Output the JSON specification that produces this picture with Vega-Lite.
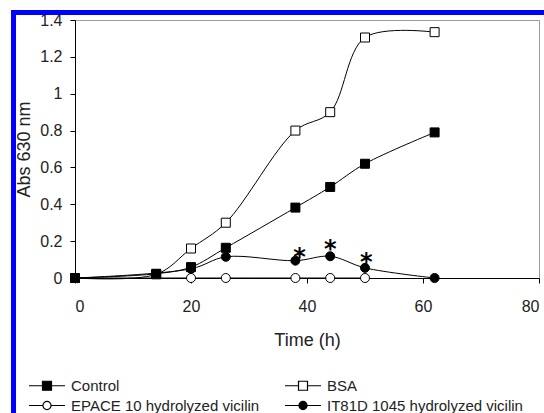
{
  "$schema": "https://vega.github.io/schema/vega-lite/v6.json",
  "width": 464,
  "height": 258,
  "autosize": {"type": "none"},
  "padding": {"left": 75, "top": 20, "right": 5, "bottom": 135},
  "background": "white",
  "config": {
    "view": {"stroke": "#999", "strokeWidth": 1},
    "font": "Liberation Sans",
    "axis": {
      "grid": false,
      "domainColor": "black",
      "tickColor": "black",
      "labelColor": "#222",
      "titleColor": "#222",
      "labelFont": "Liberation Sans",
      "titleFont": "Liberation Sans",
      "labelFontSize": 16,
      "titleFontSize": 18,
      "titleFontWeight": "normal",
      "tickSize": 5,
      "labelOverlap": false
    },
    "axisX": {"tickCount": 4, "labelPadding": 15, "titlePadding": 17, "labelOverlap": false},
    "axisY": {"tickCount": 7, "format": "~g", "labelPadding": 8, "titlePadding": 6, "labelOverlap": false},
    "legend": {
      "orient": "none", "legendX": -35.5, "legendY": 358,
      "direction": "horizontal", "columns": 2, "padding": 0,
      "labelFont": "Liberation Sans", "labelFontSize": 15, "labelColor": "#222", "labelLimit": 400,
      "labelOffset": 16.5, "columnPadding": 23, "rowPadding": 4,
      "symbolSize": 81, "symbolStrokeColor": "black", "symbolStrokeWidth": 1.2
    }
  },
  "datasets": {
    "series": [
      {"t": 0, "v": 0, "s": "EPACE 10 hydrolyzed vicilin"},
      {"t": 20, "v": 0, "s": "EPACE 10 hydrolyzed vicilin"},
      {"t": 26, "v": 0, "s": "EPACE 10 hydrolyzed vicilin"},
      {"t": 38, "v": 0, "s": "EPACE 10 hydrolyzed vicilin"},
      {"t": 44, "v": 0, "s": "EPACE 10 hydrolyzed vicilin"},
      {"t": 50, "v": 0, "s": "EPACE 10 hydrolyzed vicilin"},
      {"t": 0, "v": 0, "s": "BSA"},
      {"t": 14, "v": 0.02, "s": "BSA"},
      {"t": 20, "v": 0.16, "s": "BSA"},
      {"t": 26, "v": 0.30, "s": "BSA"},
      {"t": 38, "v": 0.80, "s": "BSA"},
      {"t": 44, "v": 0.90, "s": "BSA"},
      {"t": 50, "v": 1.305, "s": "BSA"},
      {"t": 62, "v": 1.334, "s": "BSA"},
      {"t": 0, "v": 0, "s": "Control"},
      {"t": 14, "v": 0.023, "s": "Control"},
      {"t": 20, "v": 0.059, "s": "Control"},
      {"t": 26, "v": 0.164, "s": "Control"},
      {"t": 38, "v": 0.382, "s": "Control"},
      {"t": 44, "v": 0.494, "s": "Control"},
      {"t": 50, "v": 0.62, "s": "Control"},
      {"t": 62, "v": 0.79, "s": "Control"},
      {"t": 0, "v": 0, "s": "IT81D 1045 hydrolyzed vicilin"},
      {"t": 20, "v": 0.05, "s": "IT81D 1045 hydrolyzed vicilin"},
      {"t": 26, "v": 0.115, "s": "IT81D 1045 hydrolyzed vicilin"},
      {"t": 38, "v": 0.094, "s": "IT81D 1045 hydrolyzed vicilin"},
      {"t": 44, "v": 0.118, "s": "IT81D 1045 hydrolyzed vicilin"},
      {"t": 50, "v": 0.055, "s": "IT81D 1045 hydrolyzed vicilin"},
      {"t": 62, "v": 0, "s": "IT81D 1045 hydrolyzed vicilin"}
    ],
    "stars": [
      {"t": 38.7, "v": 0.145, "label": "*"},
      {"t": 44, "v": 0.188, "label": "*"},
      {"t": 50.2, "v": 0.115, "label": "*"}
    ]
  },
  "layer": [
    {
      "data": {"name": "series"},
      "mark": {"type": "line", "interpolate": "catmull-rom", "color": "black", "strokeWidth": 1},
      "encoding": {
        "x": {"field": "t", "type": "quantitative", "scale": {"domain": [0, 80], "nice": false}, "title": "Time (h)"},
        "y": {"field": "v", "type": "quantitative", "scale": {"domain": [0, 1.4], "nice": false}, "title": "Abs 630 nm"},
        "detail": {"field": "s"}
      }
    },
    {
      "data": {"name": "series"},
      "transform": [{"filter": "datum.s == 'Control' || datum.s == 'BSA'"}],
      "mark": {"type": "point", "shape": "square", "filled": true, "stroke": "black", "strokeWidth": 1, "size": 81, "opacity": 1},
      "encoding": {
        "x": {"field": "t", "type": "quantitative", "scale": {"domain": [0, 80], "nice": false}, "title": "Time (h)"},
        "y": {"field": "v", "type": "quantitative", "scale": {"domain": [0, 1.4], "nice": false}, "title": "Abs 630 nm"},
        "fill": {"field": "s", "type": "nominal",
          "scale": {"domain": ["Control", "BSA", "EPACE 10 hydrolyzed vicilin", "IT81D 1045 hydrolyzed vicilin"], "range": ["black", "white", "white", "black"]},
          "legend": {
            "title": null,
            "symbolType": {"expr": "indexof(['Control','BSA'], datum.value) >= 0 ? 'M-4,0H-1M1,0H4M-1,-1H1V1H-1Z' : 'M-4,0H-0.9M0.9,0H4M-0.9,0A0.9,0.9 0 1,0 0.9,0A0.9,0.9 0 1,0 -0.9,0Z'"},
            "encode": {"symbols": {"shape": {"value": {"expr": "indexof(['Control','BSA'], datum.value) >= 0 ? 'M-4,0H-1M1,0H4M-1,-1H1V1H-1Z' : 'M-4,0H-0.9M0.9,0H4M-0.9,0A0.9,0.9 0 1,0 0.9,0A0.9,0.9 0 1,0 -0.9,0Z'"}}}}
          }}
      }
    },
    {
      "data": {"name": "series"},
      "transform": [{"filter": "datum.s != 'Control' && datum.s != 'BSA'"}],
      "mark": {"type": "point", "shape": "circle", "filled": true, "stroke": "black", "strokeWidth": 1, "size": 81, "opacity": 1},
      "encoding": {
        "x": {"field": "t", "type": "quantitative", "scale": {"domain": [0, 80], "nice": false}},
        "y": {"field": "v", "type": "quantitative", "scale": {"domain": [0, 1.4], "nice": false}},
        "fill": {"field": "s", "type": "nominal",
          "scale": {"domain": ["Control", "BSA", "EPACE 10 hydrolyzed vicilin", "IT81D 1045 hydrolyzed vicilin"], "range": ["black", "white", "white", "black"]},
          "legend": {
            "title": null,
            "symbolType": {"expr": "indexof(['Control','BSA'], datum.value) >= 0 ? 'M-4,0H-1M1,0H4M-1,-1H1V1H-1Z' : 'M-4,0H-0.9M0.9,0H4M-0.9,0A0.9,0.9 0 1,0 0.9,0A0.9,0.9 0 1,0 -0.9,0Z'"},
            "encode": {"symbols": {"shape": {"value": {"expr": "indexof(['Control','BSA'], datum.value) >= 0 ? 'M-4,0H-1M1,0H4M-1,-1H1V1H-1Z' : 'M-4,0H-0.9M0.9,0H4M-0.9,0A0.9,0.9 0 1,0 0.9,0A0.9,0.9 0 1,0 -0.9,0Z'"}}}}
          }}
      }
    },
    {
      "data": {"name": "stars"},
      "mark": {"type": "text", "font": "DejaVu Sans", "fontWeight": "bold", "fontSize": 24, "baseline": "alphabetic", "dy": 13.5, "color": "black"},
      "encoding": {
        "x": {"field": "t", "type": "quantitative", "scale": {"domain": [0, 80], "nice": false}},
        "y": {"field": "v", "type": "quantitative", "scale": {"domain": [0, 1.4], "nice": false}},
        "text": {"field": "label"}
      }
    },
    {
      "data": {"values": [{}]},
      "mark": {"type": "rule", "color": "#0000ff", "strokeWidth": 5, "strokeCap": "square", "clip": false},
      "encoding": {
        "x": {"datum": -10.6, "type": "quantitative", "scale": {"domain": [0, 80], "nice": false}},
        "x2": {"datum": 85},
        "y": {"datum": 1.441, "type": "quantitative", "scale": {"domain": [0, 1.4], "nice": false}}
      }
    },
    {
      "data": {"values": [{}]},
      "mark": {"type": "rule", "color": "#0000ff", "strokeWidth": 5, "strokeCap": "square", "clip": false},
      "encoding": {
        "x": {"datum": -10.6, "type": "quantitative", "scale": {"domain": [0, 80], "nice": false}},
        "y": {"datum": 1.441, "type": "quantitative", "scale": {"domain": [0, 1.4], "nice": false}},
        "y2": {"datum": -0.8}
      }
    }
  ]
}
